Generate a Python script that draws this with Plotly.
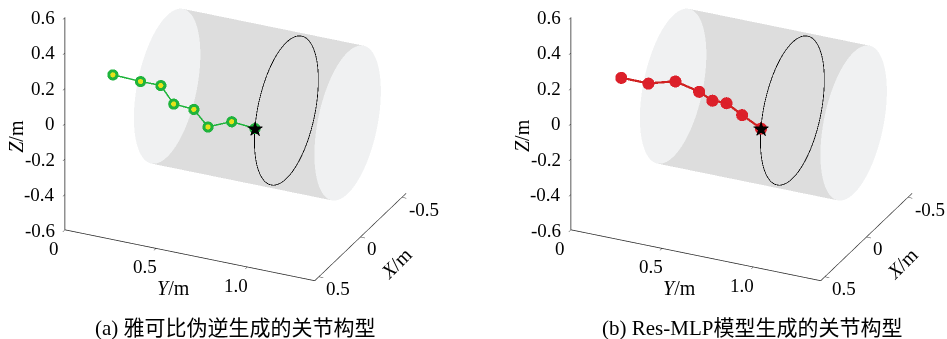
import numpy as np
import plotly.graph_objects as go

# ---------------- data ----------------
# joint positions (m)
jac_x = [0.42, 0.42, 0.42, 0.42, 0.42, 0.42, 0.42, 0.379]
jac_y = [0.203, 0.355, 0.466, 0.537, 0.647, 0.725, 0.855, 0.964]
jac_z = [0.261, 0.255, 0.256, 0.166, 0.159, 0.076, 0.133, 0.099]

mlp_x = [0.42, 0.42, 0.42, 0.42, 0.42, 0.42, 0.42, 0.379]
mlp_y = [0.216, 0.365, 0.513, 0.643, 0.716, 0.793, 0.879, 0.964]
mlp_z = [0.247, 0.246, 0.289, 0.258, 0.223, 0.225, 0.176, 0.099]

target = [0.379, 0.964, 0.099]          # x, y, z of the goal point

cyl_radius = 0.40
cyl_center_xz = [0.0, 0.03]
cyl_y_span = [0.31, 1.30]
ring_radius = 0.385
ring_y = 0.964

x_range = [-0.55, 0.55]
y_range = [0, 1.37]
z_range = [-0.6, 0.6]
x_ticks = [-0.5, 0, 0.5]
x_ticktext = ["-0.5", "0", "0.5"]
y_ticks = [0, 0.5, 1.0]
y_ticktext = ["0", "0.5", "1.0"]
z_ticks = [-0.6, -0.4, -0.2, 0, 0.2, 0.4, 0.6]
z_ticktext = ["-0.6", "-0.4", "-0.2", "0", "0.2", "0.4", "0.6"]
axis_titles = ["<i>X</i>/m", "<i>Y</i>/m", "<i>Z</i>/m"]

captions = ["(a) 雅可比伪逆生成的关节构型", "(b) Res-MLP模型生成的关节构型"]

# ---------------- figure ----------------
fig = go.Figure()

th = np.linspace(0, 2 * np.pi, 97)
yy = np.linspace(cyl_y_span[0], cyl_y_span[1], 2)
TH, YY = np.meshgrid(th, yy)
body_x = cyl_center_xz[0] + cyl_radius * np.cos(TH)
body_z = cyl_center_xz[1] + cyl_radius * np.sin(TH)

rho = np.linspace(0, cyl_radius, 2)
TH2, RR = np.meshgrid(th, rho)
cap_x = cyl_center_xz[0] + RR * np.cos(TH2)
cap_z = cyl_center_xz[1] + RR * np.sin(TH2)

flat = dict(ambient=1.0, diffuse=0.0, specular=0.0, roughness=1.0, fresnel=0.0)
serif = "Liberation Serif, Times New Roman, Noto Sans CJK SC, serif"

for i, (sx, sy, sz, kind) in enumerate([(jac_x, jac_y, jac_z, "a"), (mlp_x, mlp_y, mlp_z, "b")]):
    scene = "scene" if i == 0 else "scene2"
    # cylinder body
    fig.add_trace(go.Surface(x=body_x, y=YY, z=body_z,
                             surfacecolor=np.zeros_like(body_x),
                             colorscale=[[0, "#bdbdbd"], [1, "#bdbdbd"]],
                             showscale=False, opacity=0.3, lighting=flat,
                             hoverinfo="skip", scene=scene))
    for yc in cyl_y_span:
        fig.add_trace(go.Surface(x=cap_x, y=np.full_like(cap_x, yc), z=cap_z,
                                 surfacecolor=np.zeros_like(cap_x),
                                 colorscale=[[0, "#f4f5f7"], [1, "#f4f5f7"]],
                                 showscale=False, opacity=0.6, lighting=flat,
                                 hoverinfo="skip", scene=scene))
    # ring
    fig.add_trace(go.Scatter3d(x=cyl_center_xz[0] + ring_radius * np.cos(th),
                               y=np.full_like(th, ring_y),
                               z=cyl_center_xz[1] + ring_radius * np.sin(th),
                               mode="lines", line=dict(color="black", width=1.5),
                               opacity=0.99, hoverinfo="skip", scene=scene))
    # arm
    if kind == "a":
        fig.add_trace(go.Scatter3d(x=sx, y=sy, z=sz, mode="lines+markers",
                                   line=dict(color="#1db33a", width=3),
                                   marker=dict(size=6.5, color="#1db33a"),
                                   opacity=0.99, hoverinfo="skip", scene=scene))
        fig.add_trace(go.Scatter3d(x=sx[:-1], y=sy[:-1], z=sz[:-1], mode="markers",
                                   marker=dict(size=3, color="#e8e21a"),
                                   opacity=0.99, hoverinfo="skip", scene=scene))
    else:
        fig.add_trace(go.Scatter3d(x=sx, y=sy, z=sz, mode="lines+markers",
                                   line=dict(color="#d0201f", width=4.5),
                                   marker=dict(size=7, color="#dc1e28"),
                                   opacity=0.99, hoverinfo="skip", scene=scene))
    # target star
    fig.add_trace(go.Scatter3d(x=[target[0]], y=[target[1]], z=[target[2]], mode="text",
                               text=["★"], textposition="middle center",
                               textfont=dict(color="black", size=21),
                               opacity=0.99, hoverinfo="skip", scene=scene))


def axis(rng, tv):
    return dict(range=rng, tickvals=tv, autorange=False, title=dict(text=""),
                showticklabels=False,
                showgrid=False, showbackground=False, zeroline=False,
                showline=True, linecolor="#222222", linewidth=1.5,
                ticks="inside", ticklen=5, tickcolor="#222222",
                showspikes=False)


tick_font = dict(family=serif, size=19, color="black")
title_font = dict(family=serif, size=20, color="black")


def scene_annotations():
    ann = []
    # Z tick labels along the front-left vertical edge
    for v, t in zip(z_ticks, z_ticktext):
        ann.append(dict(x=x_range[1], y=y_range[0], z=v, text=t, showarrow=False,
                        xanchor="right", yanchor="middle", xshift=-8, font=tick_font))
    # Y tick labels along the front bottom edge
    for v, t in zip(y_ticks, y_ticktext):
        ann.append(dict(x=x_range[1], y=v, z=z_range[0], text=t, showarrow=False,
                        xanchor="center", yanchor="middle", xshift=-11, yshift=-18,
                        font=tick_font))
    # X tick labels along the right bottom edge
    for v, t in zip(x_ticks, x_ticktext):
        ann.append(dict(x=v, y=y_range[1], z=z_range[0], text=t, showarrow=False,
                        xanchor="left", yanchor="middle", xshift=5, yshift=-11.5,
                        font=tick_font))
    # axis titles
    ann.append(dict(x=0, y=y_range[1], z=z_range[0], text=axis_titles[0], showarrow=False,
                    textangle=-45, xanchor="center", yanchor="middle",
                    xshift=36, yshift=-26, font=title_font))
    ann.append(dict(x=x_range[1], y=0.6, z=z_range[0], text=axis_titles[1], showarrow=False,
                    xanchor="center", yanchor="middle", xshift=-1, yshift=-35,
                    font=title_font))
    ann.append(dict(x=x_range[1], y=y_range[0], z=0, text=axis_titles[2], showarrow=False,
                    textangle=-90, xanchor="center", yanchor="middle",
                    xshift=-49, yshift=-12, font=title_font))
    return ann


k = 1.81
shift = -0.40
eye = np.array([0.8146, 0.3761, 0.4416]) * 2.5

W, H = 947, 339
for i, dom in enumerate([[0.0317, 0.4654], [0.5663, 1.0]]):
    sc = dict(domain=dict(x=dom, y=[0.0782, 0.9764]),
              xaxis=axis(x_range, x_ticks),
              yaxis=axis(y_range, y_ticks),
              zaxis=axis(z_range, z_ticks),
              aspectmode="manual", aspectratio=dict(x=0.792 * k, y=1.0 * k, z=0.86 * k),
              camera=dict(eye=dict(x=eye[0], y=eye[1], z=eye[2] + shift),
                          up=dict(x=0, y=0, z=1), center=dict(x=0, y=0, z=shift),
                          projection=dict(type="orthographic")),
              annotations=scene_annotations(),
              bgcolor="white")
    fig.update_layout(**{("scene" if i == 0 else "scene2"): sc})

for i, cap in enumerate(captions):
    fig.add_annotation(text=cap, x=0.2492 if i == 0 else 0.7936, y=0.0324,
                       xref="paper", yref="paper", xanchor="center", yanchor="middle",
                       showarrow=False, font=dict(family=serif, size=21, color="black"))

fig.update_layout(width=W, height=H, margin=dict(l=0, r=0, t=0, b=0),
                  paper_bgcolor="white", plot_bgcolor="white", showlegend=False)

fig.write_html("out.html", config=dict(displayModeBar=False),
               post_script="document.body.style.margin='0';document.body.style.overflow='hidden';")
